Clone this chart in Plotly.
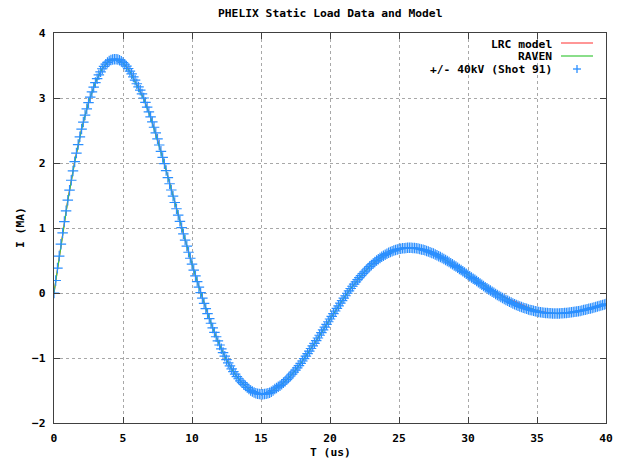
import numpy as np
import plotly.graph_objects as go

# ---------------- data ----------------
# Shot 91 measurement, sampled every 0.125 us from 0 to 40 us (one row = 1 us)
t_shot = np.round(np.arange(0, 40.0001, 0.125), 3)
i_shot = [
    0.000, 0.192, 0.384, 0.568, 0.751, 0.925, 1.099, 1.264,
    1.428, 1.582, 1.735, 1.878, 2.020, 2.152, 2.283, 2.403,
    2.522, 2.630, 2.737, 2.833, 2.928, 3.012, 3.095, 3.166,
    3.237, 3.297, 3.356, 3.403, 3.450, 3.486, 3.521, 3.547,
    3.569, 3.584, 3.594, 3.598, 3.598, 3.592, 3.582, 3.566,
    3.545, 3.519, 3.489, 3.454, 3.415, 3.372, 3.325, 3.274,
    3.219, 3.171, 3.120, 3.062, 3.000, 2.932, 2.860, 2.787,
    2.710, 2.632, 2.550, 2.462, 2.370, 2.277, 2.180, 2.086,
    1.990, 1.884, 1.776, 1.681, 1.585, 1.489, 1.392, 1.296,
    1.198, 1.102, 1.006, 0.911, 0.815, 0.721, 0.627, 0.535,
    0.443, 0.353, 0.263, 0.176, 0.089, 0.005, -0.079, -0.159,
    -0.239, -0.316, -0.393, -0.465, -0.537, -0.605, -0.673, -0.737,
    -0.800, -0.859, -0.917, -0.972, -1.025, -1.074, -1.122, -1.166,
    -1.209, -1.248, -1.285, -1.319, -1.351, -1.380, -1.407, -1.431,
    -1.454, -1.478, -1.500, -1.516, -1.530, -1.541, -1.550, -1.555,
    -1.557, -1.557, -1.555, -1.551, -1.544, -1.533, -1.520, -1.500,
    -1.477, -1.461, -1.444, -1.425, -1.404, -1.382, -1.358, -1.332,
    -1.305, -1.277, -1.248, -1.217, -1.185, -1.152, -1.117, -1.082,
    -1.046, -1.009, -0.971, -0.933, -0.894, -0.854, -0.814, -0.774,
    -0.733, -0.692, -0.650, -0.609, -0.567, -0.526, -0.484, -0.442,
    -0.400, -0.359, -0.318, -0.277, -0.236, -0.197, -0.157, -0.118,
    -0.079, -0.042, -0.004, 0.033, 0.069, 0.104, 0.138, 0.172,
    0.205, 0.236, 0.267, 0.297, 0.326, 0.354, 0.381, 0.407,
    0.432, 0.455, 0.478, 0.499, 0.520, 0.539, 0.557, 0.574,
    0.590, 0.605, 0.619, 0.631, 0.642, 0.652, 0.662, 0.670,
    0.677, 0.682, 0.687, 0.690, 0.693, 0.695, 0.695, 0.695,
    0.693, 0.691, 0.687, 0.683, 0.677, 0.671, 0.664, 0.656,
    0.648, 0.638, 0.628, 0.617, 0.606, 0.594, 0.581, 0.567,
    0.553, 0.539, 0.524, 0.508, 0.492, 0.476, 0.459, 0.442,
    0.425, 0.407, 0.389, 0.371, 0.352, 0.334, 0.315, 0.296,
    0.277, 0.258, 0.239, 0.221, 0.202, 0.183, 0.164, 0.146,
    0.127, 0.109, 0.090, 0.072, 0.054, 0.037, 0.020, 0.003,
    -0.014, -0.030, -0.046, -0.062, -0.077, -0.092, -0.106, -0.120,
    -0.134, -0.147, -0.160, -0.172, -0.184, -0.195, -0.206, -0.216,
    -0.226, -0.235, -0.244, -0.252, -0.260, -0.267, -0.274, -0.280,
    -0.286, -0.291, -0.296, -0.300, -0.303, -0.306, -0.309, -0.311,
    -0.313, -0.314, -0.315, -0.315, -0.315, -0.314, -0.313, -0.311,
    -0.309, -0.307, -0.304, -0.301, -0.297, -0.293, -0.289, -0.285,
    -0.280, -0.275, -0.269, -0.263, -0.257, -0.251, -0.244, -0.237,
    -0.230, -0.223, -0.216, -0.208, -0.200, -0.193, -0.185, -0.177,
    -0.168,
]

# model curves, sampled every 0.5 us
t_model = np.round(np.arange(0, 40.001, 0.5), 2)
i_lrc = [
    0.000, 0.751, 1.428, 2.020, 2.522, 2.928, 3.237, 3.450, 3.569, 3.598,
    3.545, 3.415, 3.219, 3.000, 2.710, 2.370, 1.990, 1.585, 1.198, 0.815,
    0.443, 0.089, -0.239, -0.537, -0.800, -1.025, -1.209, -1.351, -1.454, -1.530,
    -1.557, -1.544, -1.477, -1.404, -1.305, -1.185, -1.046, -0.894, -0.733, -0.567,
    -0.400, -0.236, -0.079, 0.069, 0.205, 0.326, 0.432, 0.520, 0.590, 0.642,
    0.677, 0.693, 0.693, 0.677, 0.648, 0.606, 0.553, 0.492, 0.425, 0.352,
    0.277, 0.205, 0.135, 0.070, 0.010, -0.045, -0.095, -0.140, -0.190, -0.235,
    -0.270, -0.295, -0.310, -0.315, -0.309, -0.297, -0.280, -0.257, -0.230, -0.200,
    -0.168,
]
i_raven = [
    0.000, 0.740, 1.420, 2.015, 2.520, 2.928, 3.240, 3.455, 3.572, 3.598,
    3.540, 3.405, 3.205, 2.985, 2.700, 2.360, 1.985, 1.590, 1.200, 0.818,
    0.445, 0.090, -0.240, -0.540, -0.805, -1.030, -1.215, -1.357, -1.460, -1.533,
    -1.560, -1.545, -1.480, -1.405, -1.307, -1.187, -1.048, -0.896, -0.735, -0.569,
    -0.402, -0.238, -0.080, 0.068, 0.204, 0.325, 0.431, 0.519, 0.589, 0.641,
    0.676, 0.692, 0.692, 0.676, 0.647, 0.605, 0.552, 0.491, 0.424, 0.352,
    0.280, 0.208, 0.138, 0.068, 0.004, -0.055, -0.108, -0.155, -0.200, -0.240,
    -0.272, -0.296, -0.311, -0.316, -0.312, -0.300, -0.283, -0.260, -0.233, -0.203,
    -0.171,
]

x_ticks = [0, 5, 10, 15, 20, 25, 30, 35, 40]
y_ticks = [-2, -1, 0, 1, 2, 3, 4]

names = ["LRC model", "RAVEN", "+/- 40kV (Shot 91)"]
RED = "#ff5050"
GREEN = "#3cc83c"
BLUE = "#2b8fff"
FONT = "DejaVu Sans Mono"

# ---------------- figure ----------------
fig = go.Figure()
fig.add_trace(go.Scatter(x=t_model, y=i_lrc, mode="lines", name=names[0],
                         line=dict(color=RED, width=1.2)))
fig.add_trace(go.Scatter(x=t_model, y=i_raven, mode="lines", name=names[1],
                         line=dict(color=GREEN, width=1.2)))
fig.add_trace(go.Scatter(x=t_shot, y=i_shot, mode="markers", name=names[2],
                         marker=dict(symbol="cross-thin", size=7.5,
                                     line=dict(color=BLUE, width=1.2))))

# page body has an 8px default margin: work in figure pixels = screen - 8
OFF = 8
W, H = 623 - OFF, 461 - OFF
ML, MT = 54 - OFF, 33 - OFF
PW, PH = 552, 390
MR, MB = W - ML - PW, H - MT - PH

def px(xs):
    return (xs - 54) / PW

def py(ys):
    return 1 - (ys - 33) / PH

tickfont = dict(family=FONT, size=11.3, color="#000000", weight="bold")
axis_common = dict(
    showline=True, linecolor="#404040", linewidth=1.2, mirror="ticks",
    ticks="inside", ticklen=6, tickcolor="#404040", tickwidth=1,
    showgrid=True, gridcolor="#a8a8a8", griddash="dot", gridwidth=1,
    zeroline=False, tickfont=tickfont, automargin=False,
)
fig.update_xaxes(range=[0, 40], tickvals=x_ticks, ticklabelstandoff=4, **axis_common)
fig.update_yaxes(range=[-2, 4], tickvals=y_ticks, ticklabelstandoff=5, **axis_common)

txt = dict(family=FONT, size=11.3, color="#000000", weight="bold")
annotations = [
    dict(text="PHELIX Static Load Data and Model", x=0.5, y=py(14), xref="paper",
         yref="paper", showarrow=False, font=txt, xanchor="center", yanchor="middle"),
    dict(text="T (us)", x=0.5, y=py(452), xref="paper", yref="paper",
         showarrow=False, font=txt, xanchor="center", yanchor="middle"),
    dict(text="I (MA)", x=px(20), y=py(228), xref="paper", yref="paper",
         showarrow=False, font=txt, textangle=-90, xanchor="center", yanchor="middle"),
]
legend_y = [44, 56.5, 69]
for nm, yy in zip(names, legend_y):
    annotations.append(dict(text=nm, x=px(554), y=py(yy), xref="paper", yref="paper",
                            showarrow=False, font=txt, xanchor="right", yanchor="middle"))

shapes = [
    dict(type="line", xref="paper", yref="paper", x0=px(561), x1=px(593),
         y0=py(43), y1=py(43), line=dict(color=RED, width=1.2)),
    dict(type="line", xref="paper", yref="paper", x0=px(561), x1=px(593),
         y0=py(56), y1=py(56), line=dict(color=GREEN, width=1.2)),
    dict(type="line", xref="paper", yref="paper", x0=px(573), x1=px(581),
         y0=py(69), y1=py(69), line=dict(color=BLUE, width=1.3)),
    dict(type="line", xref="paper", yref="paper", x0=px(577), x1=px(577),
         y0=py(65), y1=py(73), line=dict(color=BLUE, width=1.3)),
]

fig.update_layout(
    width=W, height=H,
    margin=dict(l=ML, r=MR, t=MT, b=MB, pad=0),
    paper_bgcolor="white", plot_bgcolor="white",
    showlegend=False,
    annotations=annotations, shapes=shapes,
)

fig.write_html("out.html")
